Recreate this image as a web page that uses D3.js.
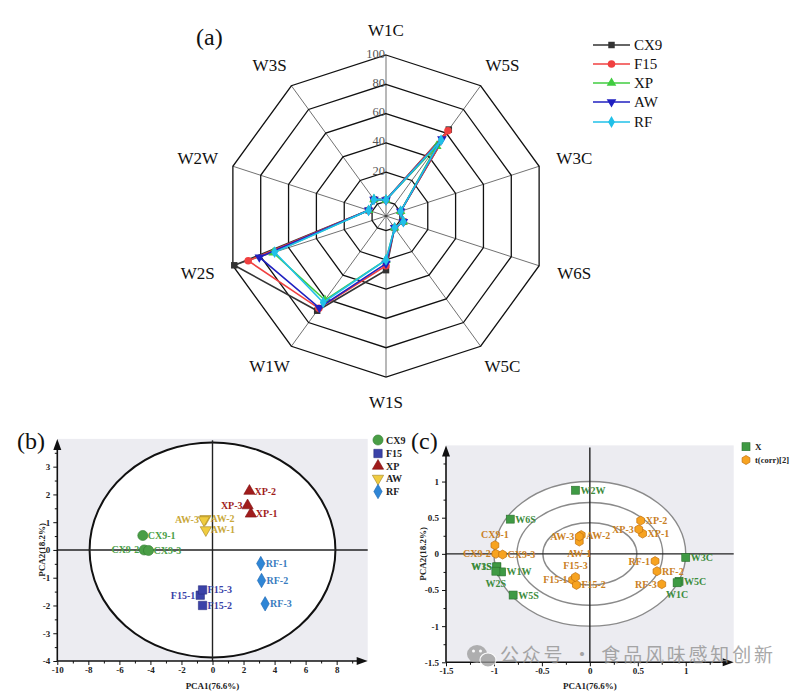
<!DOCTYPE html>
<html><head><meta charset="utf-8">
<script src="https://cdn.jsdelivr.net/npm/d3@7"></script>
<style>body{margin:0;background:#fff}svg{display:block}</style>
</head><body>
<svg id="c" width="800" height="694"></svg>
<script>
// ---------- DATA ----------
const radarAxes = ["W1C","W5S","W3C","W6S","W5C","W1S","W1W","W2S","W2W","W3S"];
const radarSeries = ["CX9","F15","XP","AW","RF"];
const radarCX9 = [1, 63, 0.5, 2.5, 0, 27, 70, 99, 2.5, 4];
const radarF15 = [1, 62, 0.5, 2.5, 0, 24, 68, 89, 2.5, 4];
const radarXP  = [1, 49, 0.5, 2.5, 0, 20, 61, 71, 2.5, 4];
const radarAW  = [1, 55, 0.5, 2.5, 0, 22.5, 67.5, 81, 2.5, 4];
const radarRF  = [1, 54, 0.5, 2.5, 0, 20, 63, 70, 2.5, 4];
const radarRings = [0, 20, 40, 60, 80, 100];
const radarTickLabels = [20, 40, 60, 80, 100];

const pcaGroups = ["CX9","F15","XP","AW","RF"];
const pcaLabels = ["CX9-1","CX9-2","CX9-3","F15-1","F15-2","F15-3","XP-1","XP-2","XP-3","AW-1","AW-2","AW-3","RF-1","RF-2","RF-3"];
const pcaX = [-4.49,-4.40,-4.12, -0.79,-0.64,-0.64, 2.47,2.38,2.26, -0.43,-0.45,-0.55, 3.11,3.16,3.39];
const pcaY = [0.52,0.0,-0.02, -1.63,-2.00,-1.44, 1.30,2.12,1.60, 0.72,1.12,1.08, -0.49,-1.10,-1.94];
const pcaXTicks = [-10,-8,-6,-4,-2,0,2,4,6,8];
const pcaYTicks = [-4,-3,-2,-1,0,1,2,3];

const loadLabels = ["W2W","W6S","W3S","W1S","W1W","W2S","W5S","W3C","W5C","W1C"];
const loadX = [-0.15,-0.83,-0.97,-0.97,-0.92,-0.98,-0.80,1.00,0.93,0.91];
const loadY = [0.88,0.48,-0.18,-0.18,-0.25,-0.24,-0.57,-0.05,-0.38,-0.40];
const scoreLabels = ["CX9-1","CX9-2","CX9-3","AW-1","AW-2","AW-3","XP-1","XP-2","XP-3","RF-1","RF-2","RF-3","F15-1","F15-2","F15-3"];
const scoreX = [-0.99,-0.98,-0.91, -0.11,-0.09,-0.11, 0.55,0.53,0.51, 0.68,0.70,0.75, -0.18,-0.14,-0.15];
const scoreY = [0.12,0.0,-0.01, 0.17,0.26,0.24, 0.28,0.46,0.34, -0.10,-0.24,-0.42, -0.36,-0.43,-0.32];
const biXTicks = [-1.5,-1,-0.5,0,0.5,1];
const biYTicks = [-1.5,-1,-0.5,0,0.5,1];
const ellRX = [1.0, 0.76, 0.49];
const ellRY = [1.0, 0.71, 0.43];

// ---------- SETUP ----------
const svg = d3.select("#c");
const SERIF = "'Liberation Serif','Times New Roman',serif";
svg.append("rect").attr("width",800).attr("height",694).attr("fill","#fff");

// ---------- PANEL A: RADAR ----------
(function(){
  const cx = 386, cy = 216;
  const r = d3.scaleLinear().domain([-10,100]).range([0,161]);
  const n = radarAxes.length;
  const ang = i => i * 2*Math.PI/n;
  const pt = (i, v) => [cx + r(v)*Math.sin(ang(i)), cy - r(v)*Math.cos(ang(i))];
  const g = svg.append("g");
  radarAxes.forEach((a,i)=>{
    const p = pt(i,100);
    g.append("line").attr("x1",cx).attr("y1",cy).attr("x2",p[0]).attr("y2",p[1])
      .attr("stroke","#333").attr("stroke-width",0.7);
  });
  radarRings.forEach(v=>{
    const pts = radarAxes.map((a,i)=>pt(i,v));
    g.append("polygon").attr("points",pts.map(p=>p.join(",")).join(" "))
      .attr("fill","none").attr("stroke","#111").attr("stroke-width",1.3);
  });
  radarTickLabels.forEach(v=>{
    g.append("text").attr("x",cx-1).attr("y",cy-r(v)).attr("dy","0.2em")
      .attr("text-anchor","end").attr("font-family",SERIF).attr("font-size",12.5)
      .attr("fill","#555").text(v);
  });
  radarAxes.forEach((a,i)=>{
    const x = cx + 198*Math.sin(ang(i)), y = cy - 186*Math.cos(ang(i));
    g.append("text").attr("x",x).attr("y",y).attr("dy","0.35em")
      .attr("text-anchor","middle").attr("font-family",SERIF).attr("font-size",17)
      .attr("fill","#111").text(a);
  });
  const series = [
    {name:"CX9", vals:radarCX9, color:"#333333", sym:d3.symbolSquare, rot:0, size:42},
    {name:"F15", vals:radarF15, color:"#f04040", sym:d3.symbolCircle, rot:0, size:45},
    {name:"XP",  vals:radarXP,  color:"#40cc40", sym:d3.symbolTriangle, rot:0, size:40},
    {name:"AW",  vals:radarAW,  color:"#2020c0", sym:d3.symbolTriangle, rot:180, size:40},
    {name:"RF",  vals:radarRF,  color:"#20c0e8", sym:d3.symbolDiamond, rot:0, size:40}
  ];
  const line = d3.lineRadial().angle((d,i)=>ang(i)).radius(d=>r(d)).curve(d3.curveLinearClosed);
  series.forEach(s=>{
    g.append("path").attr("transform",`translate(${cx},${cy})`).attr("d",line(s.vals))
      .attr("fill","none").attr("stroke",s.color).attr("stroke-width",1.6);
    s.vals.forEach((v,i)=>{
      const p = pt(i,v);
      g.append("path").attr("d",d3.symbol(s.sym,s.size)())
        .attr("transform",`translate(${p[0]},${p[1]}) rotate(${s.rot})`)
        .attr("fill",s.color);
    });
  });
  const ly = [45,64,83,102,122];
  series.forEach((s,k)=>{
    g.append("line").attr("x1",593).attr("x2",630).attr("y1",ly[k]).attr("y2",ly[k])
      .attr("stroke",s.color).attr("stroke-width",1.6);
    g.append("path").attr("d",d3.symbol(s.sym,s.size)())
      .attr("transform",`translate(611.5,${ly[k]}) rotate(${s.rot})`).attr("fill",s.color);
    g.append("text").attr("x",634).attr("y",ly[k]).attr("dy","0.35em")
      .attr("font-family",SERIF).attr("font-size",15).attr("fill","#111").text(s.name);
  });
  g.append("text").attr("x",196).attr("y",45).attr("font-family",SERIF)
    .attr("font-size",24).attr("fill","#111").text("(a)");
})();

function drawAxes(g, x, y, xTicks, yTicks, xMinor, yMinor, fmt){
  const [x0,x1] = x.range(), [y0,y1] = y.range();
  const xa = g.append("g").attr("transform",`translate(0,${y0})`)
    .call(d3.axisBottom(x).tickValues(xTicks.concat(xMinor)).tickSize(4).tickFormat(v=> xTicks.includes(v)?fmt(v):""));
  xa.select(".domain").remove();
  xa.selectAll(".tick line").attr("stroke","#111").attr("stroke-width",1)
    .attr("y2",v=>xTicks.includes(v)?4:2.5);
  xa.selectAll("text").attr("font-family",SERIF).attr("font-size",9).attr("font-weight","bold").attr("fill","#222").attr("y",5).attr("dy","0.8em");
  const ya = g.append("g").attr("transform",`translate(${x0},0)`)
    .call(d3.axisLeft(y).tickValues(yTicks.concat(yMinor)).tickSize(4).tickFormat(v=> yTicks.includes(v)?fmt(v):""));
  ya.select(".domain").remove();
  ya.selectAll(".tick line").attr("stroke","#111").attr("stroke-width",1)
    .attr("x2",v=>yTicks.includes(v)?-4:-2.5);
  ya.selectAll("text").attr("font-family",SERIF).attr("font-size",9).attr("font-weight","bold").attr("fill","#222");
  g.append("line").attr("x1",x0).attr("x2",x1-6).attr("y1",y0).attr("y2",y0).attr("stroke","#111").attr("stroke-width",1.6);
  g.append("line").attr("x1",x0).attr("x2",x0).attr("y1",y0).attr("y2",y1+6).attr("stroke","#111").attr("stroke-width",1.6);
  g.append("polygon").attr("points",`${x1},${y0} ${x1-11},${y0-4} ${x1-11},${y0+4}`).attr("fill","#111");
  g.append("polygon").attr("points",`${x0},${y1} ${x0-4},${y1+11} ${x0+4},${y1+11}`).attr("fill","#111");
}
const fmt = v => String(v);

// ---------- PANEL B: PCA ----------
(function(){
  const x = d3.scaleLinear().domain([-10,10]).range([57.3,367.7]);
  const y = d3.scaleLinear().domain([-4,4]).range([661,438.9]);
  const g = svg.append("g");
  g.append("rect").attr("x",57.3).attr("y",438.9).attr("width",310.4).attr("height",222.1).attr("fill","#ececf1");
  g.append("ellipse").attr("cx",x(0)).attr("cy",y(0)).attr("rx",x(7.92)-x(0)).attr("ry",y(0)-y(3.87))
    .attr("fill","#fff").attr("stroke","#111").attr("stroke-width",2);
  g.append("line").attr("x1",x(0)).attr("x2",x(0)).attr("y1",y(-4)).attr("y2",y(3.95)).attr("stroke","#222").attr("stroke-width",1.4);
  g.append("line").attr("x1",x(-10)).attr("x2",x(10)).attr("y1",y(0)).attr("y2",y(0)).attr("stroke","#222").attr("stroke-width",1.4);
  drawAxes(g, x, y, pcaXTicks, pcaYTicks, [-9,-7,-5,-3,-1,1,3,5,7,9], [-3.5,-2.5,-1.5,-0.5,0.5,1.5,2.5,3.5], fmt);
  const sty = {
    CX9:{fill:"#4a9e46",stroke:"#2f7a2f",sym:d3.symbolCircle,rot:0,size:80,text:"#4a9e46"},
    F15:{fill:"#3b42a8",stroke:"#2a2f80",sym:d3.symbolSquare,rot:0,size:70,text:"#3b42a8"},
    XP:{fill:"#a01c1c",stroke:"#801010",sym:d3.symbolTriangle,rot:0,size:55,text:"#a01c1c"},
    AW:{fill:"#f0cc40",stroke:"#a08020",sym:d3.symbolTriangle,rot:180,size:55,text:"#c9a83a"},
    RF:{fill:"#2f86d6",stroke:"#1f66b0",sym:d3.symbolDiamond,rot:0,size:60,text:"#3a7cc0"}
  };
  const leftLab = ["CX9-2","AW-3","XP-3","F15-1"];
  pcaLabels.forEach((l,i)=>{
    const grp = l.split("-")[0], s = sty[grp];
    const px = x(pcaX[i]), py = y(pcaY[i]);
    g.append("path").attr("d",d3.symbol(s.sym,s.size)()).attr("transform",`translate(${px},${py}) rotate(${s.rot})`)
      .attr("fill",s.fill).attr("stroke",s.stroke).attr("stroke-width",0.6);
    const left = leftLab.includes(l);
    g.append("text").attr("x",left?px-5:px+5).attr("y",py).attr("dy","0.35em")
      .attr("text-anchor",left?"end":"start").attr("font-family",SERIF).attr("font-size",10)
      .attr("font-weight","bold").attr("fill",s.text).text(l);
  });
  const ly = [440,453.5,466,478.5,491.5];
  pcaGroups.forEach((gname,k)=>{
    const s = sty[gname];
    g.append("path").attr("d",d3.symbol(s.sym,s.size)()).attr("transform",`translate(378,${ly[k]}) rotate(${s.rot})`)
      .attr("fill",s.fill).attr("stroke",s.stroke).attr("stroke-width",0.6);
    g.append("text").attr("x",386).attr("y",ly[k]).attr("dy","0.35em").attr("font-family",SERIF)
      .attr("font-size",10).attr("font-weight","bold").attr("fill","#222").text(gname);
  });
  g.append("text").attr("x",x(0)).attr("y",689).attr("text-anchor","middle").attr("font-family",SERIF)
    .attr("font-size",9).attr("font-weight","bold").attr("fill","#222").text("PCA1(76.6%)");
  g.append("text").attr("transform",`translate(45,${y(0)}) rotate(-90)`).attr("text-anchor","middle").attr("font-family",SERIF)
    .attr("font-size",9).attr("font-weight","bold").attr("fill","#222").text("PCA2(18.2%)");
  g.append("text").attr("x",17).attr("y",449).attr("font-family",SERIF).attr("font-size",24).attr("fill","#111").text("(b)");
})();

// ---------- PANEL C: BIPLOT ----------
(function(){
  const x = d3.scaleLinear().domain([-1.5,1.5]).range([446,733.7]);
  const y = d3.scaleLinear().domain([-1.5,1.5]).range([662.3,445.4]);
  const g = svg.append("g");
  g.append("rect").attr("x",446).attr("y",445.4).attr("width",287.7).attr("height",216.9).attr("fill","#ececf1");
  ellRX.forEach((rx,k)=>{
    g.append("ellipse").attr("cx",x(0)).attr("cy",y(0)).attr("rx",x(rx)-x(0)).attr("ry",y(0)-y(ellRY[k]))
      .attr("fill",k===0?"#fff":"none").attr("stroke","#8a8a8a").attr("stroke-width",1.4);
  });
  g.append("line").attr("x1",x(0)).attr("x2",x(0)).attr("y1",y(-1.5)).attr("y2",y(1.47)).attr("stroke","#222").attr("stroke-width",1.4);
  g.append("line").attr("x1",x(-1.5)).attr("x2",x(1.5)).attr("y1",y(0)).attr("y2",y(0)).attr("stroke","#222").attr("stroke-width",1.4);
  drawAxes(g, x, y, biXTicks, biYTicks, [-1.25,-0.75,-0.25,0.25,0.75,1.25], [-1.25,-0.75,-0.25,0.25,0.75,1.25], fmt);
  const hex = (rad)=>{ const p=[]; for(let k=0;k<6;k++){const a=Math.PI/6+k*Math.PI/3; p.push([rad*Math.cos(a),rad*Math.sin(a)]);} return "M"+p.map(q=>q.join(",")).join("L")+"Z"; };
  const green = "#3f9a44", orange = "#f7a320", otxt = "#c98024", gtxt = "#3d8c3d";
  const gpos = {W3S:"left",W1S:"left",W2S:"below",W1C:"below"};
  const opos = {"CX9-1":"above","CX9-2":"left","AW-3":"left","AW-1":"below","XP-3":"left","RF-1":"left","RF-3":"left","F15-1":"left","F15-3":"above"};
  function lab(px,py,t,pos,col){
    let tx=px+5, ty=py, anc="start";
    if(pos==="left"){tx=px-5;anc="end";}
    if(pos==="above"){tx=px;ty=py-11;anc="middle";}
    if(pos==="below"){tx=px;ty=py+12;anc="middle";}
    g.append("text").attr("x",tx).attr("y",ty).attr("dy","0.35em").attr("text-anchor",anc)
      .attr("font-family",SERIF).attr("font-size",10).attr("font-weight","bold").attr("fill",col).text(t);
  }
  loadLabels.forEach((l,i)=>{
    const px=x(loadX[i]), py=y(loadY[i]);
    g.append("rect").attr("x",px-4).attr("y",py-4).attr("width",8).attr("height",8)
      .attr("fill",green).attr("stroke","#2a6e2e").attr("stroke-width",0.6);
  });
  loadLabels.forEach((l,i)=>lab(x(loadX[i]),y(loadY[i]),l,gpos[l],gtxt));
  scoreLabels.forEach((l,i)=>{
    const px=x(scoreX[i]), py=y(scoreY[i]);
    g.append("path").attr("d",hex(4.5)).attr("transform",`translate(${px},${py})`)
      .attr("fill",orange).attr("stroke","#c07010").attr("stroke-width",0.7);
  });
  scoreLabels.forEach((l,i)=>lab(x(scoreX[i]),y(scoreY[i]),l,opos[l],otxt));
  g.append("rect").attr("x",742).attr("y",442.7).attr("width",8).attr("height",8).attr("fill",green).attr("stroke","#2a6e2e").attr("stroke-width",0.6);
  g.append("text").attr("x",755).attr("y",446.7).attr("dy","0.35em").attr("font-family",SERIF).attr("font-size",9).attr("font-weight","bold").attr("fill","#222").text("X");
  g.append("path").attr("d",hex(4.5)).attr("transform","translate(746,460)").attr("fill",orange).attr("stroke","#c07010").attr("stroke-width",0.7);
  g.append("text").attr("x",755).attr("y",460).attr("dy","0.35em").attr("font-family",SERIF).attr("font-size",8.5).attr("font-weight","bold").attr("fill","#222").text("t(corr)[2]");
  g.append("text").attr("x",x(0)).attr("y",689).attr("text-anchor","middle").attr("font-family",SERIF)
    .attr("font-size",9).attr("font-weight","bold").attr("fill","#222").text("PCA1(76.6%)");
  g.append("text").attr("transform",`translate(426,${y(0)}) rotate(-90)`).attr("text-anchor","middle").attr("font-family",SERIF)
    .attr("font-size",9).attr("font-weight","bold").attr("fill","#222").text("PCA2(18.2%)");
  g.append("text").attr("x",411).attr("y",449).attr("font-family",SERIF).attr("font-size",24).attr("fill","#111").text("(c)");
  const w = svg.append("g").attr("opacity",0.75);
  w.append("ellipse").attr("cx",477).attr("cy",654).attr("rx",10).attr("ry",9).attr("fill","#9a9a9a");
  w.append("ellipse").attr("cx",488).attr("cy",660).attr("rx",8).attr("ry",7).attr("fill","#9a9a9a").attr("stroke","#fff").attr("stroke-width",1.2);
  w.append("circle").attr("cx",473.5).attr("cy",651).attr("r",1.5).attr("fill","#fff");
  w.append("circle").attr("cx",480.5).attr("cy",651).attr("r",1.5).attr("fill","#fff");
  w.append("text").attr("x",500).attr("y",662).attr("font-family","'Noto Sans CJK SC'").attr("font-size",19)
    .attr("fill","#8c8c8c").attr("textLength",273).attr("lengthAdjust","spacing").text("公众号 · 食品风味感知创新");
})();
</script>
</body></html>
